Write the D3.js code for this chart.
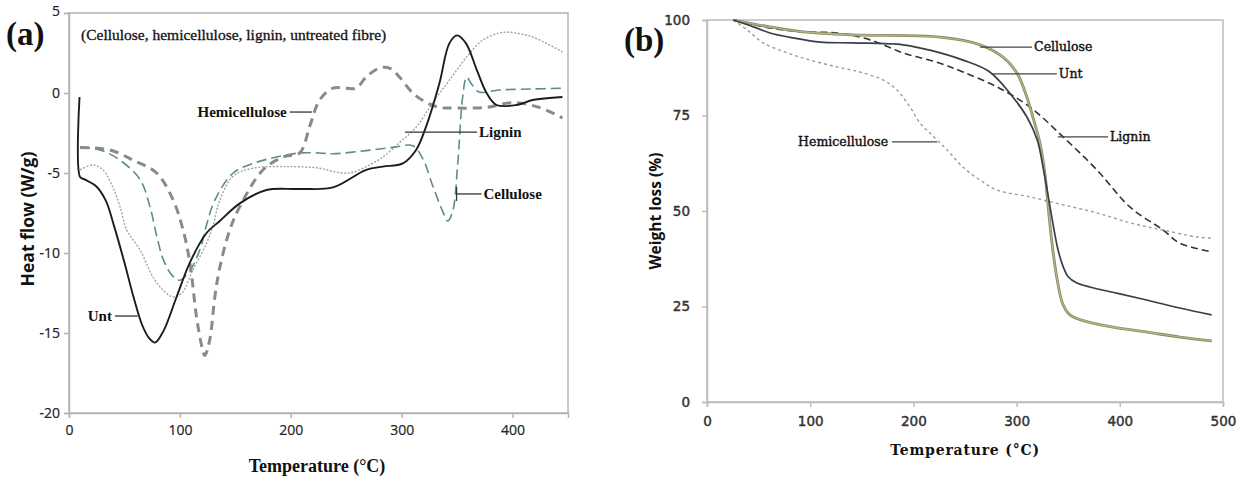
<!DOCTYPE html>
<meta charset="utf-8">
<script src="https://d3js.org/d3.v7.min.js"></script>
<style>
  body { margin: 0; background: #fff; }
</style>
<svg id="chart" width="1253" height="482"></svg>
<script>

// ---- panel (a): DSC heat flow, [temperature, W/g]
var untA = [[9.5,-0.25],[10,-5.25],[14,-5.4],[24,-5.8],[33,-6.7],[41,-8.4],[50,-10.6],[58,-12.7],[66,-14.5],
  [72,-15.3],[77.5,-15.6],[85,-14.9],[97,-12.75],[109,-10.6],[124,-8.75],[136,-8.0],[154,-6.9],[178,-6.06],
  [208,-6.0],[238,-5.9],[268,-4.8],[283,-4.6],[301,-4.4],[313,-3.56],[322,-2.1],[334,0.6],[343,3.1],[350,3.6],
  [358,3.1],[368,1.4],[376.6,0],[385.6,-0.75],[403.6,-0.75],[418,-0.44],[445,-0.25]];
var hemiA = [[10,-3.4],[37,-3.56],[57.7,-4.2],[79,-5.0],[94,-6.7],[103,-8.6],[109,-10.6],[115,-14],[120,-15.9],
  [122.5,-16.4],[127,-15.4],[131.5,-12.75],[136,-10.9],[145,-8.56],[154,-7.1],[175,-4.8],[193,-4.0],[208,-3.75],
  [217,-2.1],[226,-0.44],[238,0.3],[250,0.3],[259,0.3],[268,1.0],[280,1.56],[289,1.56],[298,1.0],[310,0],
  [322.5,-0.6],[334,-0.9],[349.5,-0.94],[376.6,-0.9],[400,-0.6],[424,-0.9],[445,-1.56]];
var celluA = [[10,-3.4],[28,-3.56],[46,-4.2],[64,-5.4],[73,-7.1],[79,-8.9],[85,-10.4],[93,-11.4],[100,-11.7],
  [109,-11.1],[118,-9.8],[124,-8.25],[131.5,-6.7],[148,-5.0],[166,-4.4],[187,-4.0],[208,-3.75],[226,-3.75],
  [238,-3.8],[268,-3.6],[292,-3.4],[310,-3.3],[319,-4.1],[328,-5.8],[337,-7.4],[341.4,-8.0],[346,-7.4],
  [350.5,-4.5],[355,-0.25],[358.6,1.0],[363,0.56],[370,0.06],[388,0.19],[418,0.25],[445,0.3]];
var ligninA = [[10,-4.8],[21.6,-4.5],[30.6,-4.8],[39.6,-5.9],[46,-7.1],[52,-8.56],[64,-9.8],[75.7,-11.5],
  [84.7,-12.3],[93.7,-12.75],[101.8,-12.5],[111.7,-11.06],[124,-9.4],[130,-8.25],[136,-6.7],[148,-5.2],
  [166,-4.7],[196,-4.6],[226,-4.7],[238,-4.9],[253,-5.0],[268,-4.6],[283,-4.0],[298,-3.1],[313.5,-2.1],
  [328,-0.6],[343,0.8],[358.6,2.25],[373,3.3],[388,3.75],[397,3.8],[418,3.5],[445,2.56]];

// ---- panel (b): TGA weight, [temperature, %]
var celluB = [[25.5,100],[61,98.2],[93,96.9],[141.5,96.1],[225.8,95.5],[264.6,93.5],[286.8,90.3],[300.4,86.1],
  [310,79.8],[315.8,74.6],[322.6,67.8],[327.4,59.9],[331,50],[335,40],[340,31],[345,25.5],[351.7,22.8],
  [364.4,21.3],[393.4,19.6],[426.3,18.3],[458.3,17.0],[489.3,16.0]];
var untB = [[25.5,100],[45,98.2],[61,96.6],[83.5,95.3],[109.7,94.2],[141.5,94.0],[190,93.5],[216,92.1],
  [248,89.5],[274,86.4],[296.5,79.8],[310,74.6],[320,68.6],[325.6,61.5],[330.4,54.2],[335,47],[340,40],
  [345,35.5],[350,32.8],[358,31.2],[371,30.1],[397,28.5],[426,26.7],[458,24.6],[489,22.8]];
var ligninB = [[25.5,100],[61,97.9],[93,96.9],[126,96.6],[158,94.8],[190,91.4],[225.8,88.7],[248,86.4],
  [281,82.5],[313,77.2],[345,69.4],[378,60.7],[410,51],[442,45],[458,41.6],[489,39.3]];
var hemiB = [[25.5,100],[39,97.4],[54.5,94],[77.7,91.4],[100,89.5],[126,87.7],[148,86.4],[170.6,84.3],
  [184,81.7],[196.8,77.2],[206.5,73],[216,70.4],[232.6,66],[248,61.5],[264.6,58.1],[281,55.5],[313,53.7],
  [345,51.6],[378,49.5],[410,46.9],[442,45],[475,43.2],[489,42.9]];

// ticks
var ticksAx = [0, 100, 200, 300, 400];
var ticksAy = [-20, -15, -10, -5, 0, 5];
var ticksBx = [0, 100, 200, 300, 400, 500];
var ticksBy = [0, 25, 50, 75, 100];

// labels: text, leader from x1 to x2 at y (data units), text anchor side
var labelsA = [
  {text: "Hemicellulose", x1: 199, x2: 219, y: -1.19, side: "end"},
  {text: "Lignin", x1: 303, x2: 368, y: -2.44, side: "start"},
  {text: "Cellulose", x1: 349.5, x2: 372, y: -6.31, side: "start", bar: true},
  {text: "Unt", x1: 41.4, x2: 62, y: -13.94, side: "end"}
];
var labelsB = [
  {text: "Hemicellulose", x1: 179.3, x2: 222.9, y: 68.1, side: "end"},
  {text: "Cellulose", x1: 264.6, x2: 315, y: 92.9, side: "start"},
  {text: "Unt", x1: 276, x2: 339, y: 85.9, side: "start"},
  {text: "Lignin", x1: 340, x2: 388.6, y: 69.4, side: "start"}
];

var svg = d3.select("#chart");
var plain = function(d) { return String(d); };

// ================= panel (a) =================
var xA = d3.scaleLinear().domain([0, 450]).range([69, 568]);
var yA = d3.scaleLinear().domain([-20, 5]).range([413, 13]);

var gA = svg.append("g");

// frame
gA.append("rect")
  .attr("x", xA(0)).attr("y", yA(5))
  .attr("width", xA(450) - xA(0)).attr("height", yA(-20) - yA(5))
  .attr("fill", "none").attr("stroke", "#b4b4b4").attr("stroke-width", 1.5);

var axAx = gA.append("g")
  .attr("transform", "translate(0," + yA(-20) + ")")
  .call(d3.axisBottom(xA).tickValues(ticksAx).tickFormat(plain).tickSize(5).tickPadding(7));
var axAy = gA.append("g")
  .attr("transform", "translate(" + xA(0) + ",0)")
  .call(d3.axisLeft(yA).tickValues(ticksAy).tickFormat(plain).tickSize(5).tickPadding(4));
[axAx, axAy].forEach(function(a) {
  a.select(".domain").attr("stroke", "#b4b4b4").attr("stroke-width", 1.5);
  a.selectAll(".tick line").attr("stroke", "#b4b4b4").attr("stroke-width", 1.5);
  a.selectAll(".tick text").attr("font-family", "Open Sans").attr("font-size", 14).attr("fill", "#222")
    .attr("stroke", "#222").attr("stroke-width", 0.2);
});
axAy.select(".tick:last-of-type text").attr("dy", "0.2em");

var lineA = d3.line()
  .x(function(d) { return xA(d[0]); })
  .y(function(d) { return yA(d[1]); })
  .curve(d3.curveCatmullRom.alpha(0.5));

gA.append("path").datum(ligninA).attr("d", lineA)
  .attr("fill", "none").attr("stroke", "#a3a3a3").attr("stroke-width", 1.4).attr("stroke-dasharray", "2,1.6");
gA.append("path").datum(celluA).attr("d", lineA)
  .attr("fill", "none").attr("stroke", "#5d8b91").attr("stroke-width", 1.6).attr("stroke-dasharray", "10,5");
gA.append("path").datum(hemiA).attr("d", lineA)
  .attr("fill", "none").attr("stroke", "#8a8a8a").attr("stroke-width", 3).attr("stroke-dasharray", "9,6");
gA.append("path").datum(untA).attr("d", lineA)
  .attr("fill", "none").attr("stroke", "#1c1c1c").attr("stroke-width", 1.9);

labelsA.forEach(function(l) {
  gA.append("line")
    .attr("x1", xA(l.x1)).attr("x2", xA(l.x2)).attr("y1", yA(l.y)).attr("y2", yA(l.y))
    .attr("stroke", "#333").attr("stroke-width", 1.3);
  if (l.bar) {
    gA.append("line")
      .attr("x1", xA(l.x1)).attr("x2", xA(l.x1)).attr("y1", yA(l.y) - 7).attr("y2", yA(l.y) + 7)
      .attr("stroke", "#333").attr("stroke-width", 1.3);
  }
  gA.append("text")
    .attr("x", l.side == "end" ? xA(l.x1) - 3 : xA(l.x2) + 2)
    .attr("y", yA(l.y)).attr("dy", "0.35em")
    .attr("text-anchor", l.side)
    .attr("font-family", "Liberation Serif").attr("font-weight", "bold").attr("font-size", 15)
    .attr("fill", "#111")
    .text(l.text);
});

gA.append("text")
  .attr("x", 81).attr("y", 40)
  .attr("font-family", "Liberation Serif").attr("font-size", 15.5).attr("fill", "#111")
  .attr("stroke", "#111").attr("stroke-width", 0.3)
  .text("(Cellulose, hemicellulose, lignin, untreated fibre)");

gA.append("text")
  .attr("x", 6).attr("y", 45)
  .attr("font-family", "Liberation Serif").attr("font-weight", "bold").attr("font-size", 33)
  .attr("fill", "#111").text("(a)");

gA.append("text")
  .attr("x", 317).attr("y", 472).attr("text-anchor", "middle")
  .attr("font-family", "Liberation Serif").attr("font-weight", "bold").attr("font-size", 18)
  .attr("fill", "#111").text("Temperature (\u00B0C)");

gA.append("text")
  .attr("transform", "translate(34,219) rotate(-90)").attr("text-anchor", "middle")
  .attr("font-family", "Open Sans").attr("font-weight", "bold").attr("font-size", 17.5)
  .attr("fill", "#111").text("Heat flow (W/g)");

// ================= panel (b) =================
var xB = d3.scaleLinear().domain([0, 500]).range([707, 1223]);
var yB = d3.scaleLinear().domain([0, 100]).range([402, 20]);

var gB = svg.append("g");

gB.append("rect")
  .attr("x", xB(0)).attr("y", yB(100))
  .attr("width", xB(500) - xB(0)).attr("height", yB(0) - yB(100))
  .attr("fill", "none").attr("stroke", "#bcbcbc").attr("stroke-width", 1.5);

var axBx = gB.append("g")
  .attr("transform", "translate(0," + yB(0) + ")")
  .call(d3.axisBottom(xB).tickValues(ticksBx).tickSize(5).tickPadding(9));
var axBy = gB.append("g")
  .attr("transform", "translate(" + xB(0) + ",0)")
  .call(d3.axisLeft(yB).tickValues(ticksBy).tickSize(5).tickPadding(12));
[axBx, axBy].forEach(function(a) {
  a.select(".domain").attr("stroke", "#bcbcbc").attr("stroke-width", 1.5);
  a.selectAll(".tick line").attr("stroke", "#bcbcbc").attr("stroke-width", 1.5);
  a.selectAll(".tick text").attr("font-family", "DejaVu Sans").attr("font-size", 13.5).attr("fill", "#333")
    .attr("stroke", "#333").attr("stroke-width", 0.45);
});

var lineB = d3.line()
  .x(function(d) { return xB(d[0]); })
  .y(function(d) { return yB(d[1]); })
  .curve(d3.curveCatmullRom.alpha(0.5));

gB.append("path").datum(hemiB).attr("d", lineB)
  .attr("fill", "none").attr("stroke", "#9c9c9c").attr("stroke-width", 1.4).attr("stroke-dasharray", "3,3");
gB.append("path").datum(ligninB).attr("d", lineB)
  .attr("fill", "none").attr("stroke", "#333").attr("stroke-width", 1.6).attr("stroke-dasharray", "7,4");
gB.append("path").datum(celluB).attr("d", lineB)
  .attr("fill", "none").attr("stroke", "#8b895f").attr("stroke-width", 2.8);
gB.append("path").datum(celluB).attr("d", lineB)
  .attr("fill", "none").attr("stroke", "#bab78c").attr("stroke-width", 1.1);
gB.append("path").datum(untB).attr("d", lineB)
  .attr("fill", "none").attr("stroke", "#3b3e4a").attr("stroke-width", 1.7);

labelsB.forEach(function(l) {
  gB.append("line")
    .attr("x1", xB(l.x1)).attr("x2", xB(l.x2)).attr("y1", yB(l.y)).attr("y2", yB(l.y))
    .attr("stroke", "#444").attr("stroke-width", 1.3);
  gB.append("text")
    .attr("x", l.side == "end" ? xB(l.x1) - 4 : xB(l.x2) + 2)
    .attr("y", yB(l.y)).attr("dy", "0.35em")
    .attr("text-anchor", l.side)
    .attr("font-family", "DejaVu Serif").attr("font-size", 12.5)
    .attr("fill", "#111").attr("stroke", "#111").attr("stroke-width", 0.4)
    .text(l.text);
});

gB.append("text")
  .attr("x", 624).attr("y", 51)
  .attr("font-family", "Liberation Serif").attr("font-weight", "bold").attr("font-size", 33)
  .attr("fill", "#111").text("(b)");

gB.append("text")
  .attr("x", 965).attr("y", 455).attr("text-anchor", "middle")
  .attr("font-family", "DejaVu Serif").attr("font-weight", "bold").attr("font-size", 14)
  .attr("letter-spacing", 0.8)
  .attr("fill", "#111").text("Temperature (\u00B0C)");

gB.append("text")
  .attr("transform", "translate(661,211) rotate(-90)").attr("text-anchor", "middle")
  .attr("font-family", "Open Sans").attr("font-weight", "bold").attr("font-size", 15.5)
  .attr("fill", "#111").text("Weight loss (%)");

</script>
